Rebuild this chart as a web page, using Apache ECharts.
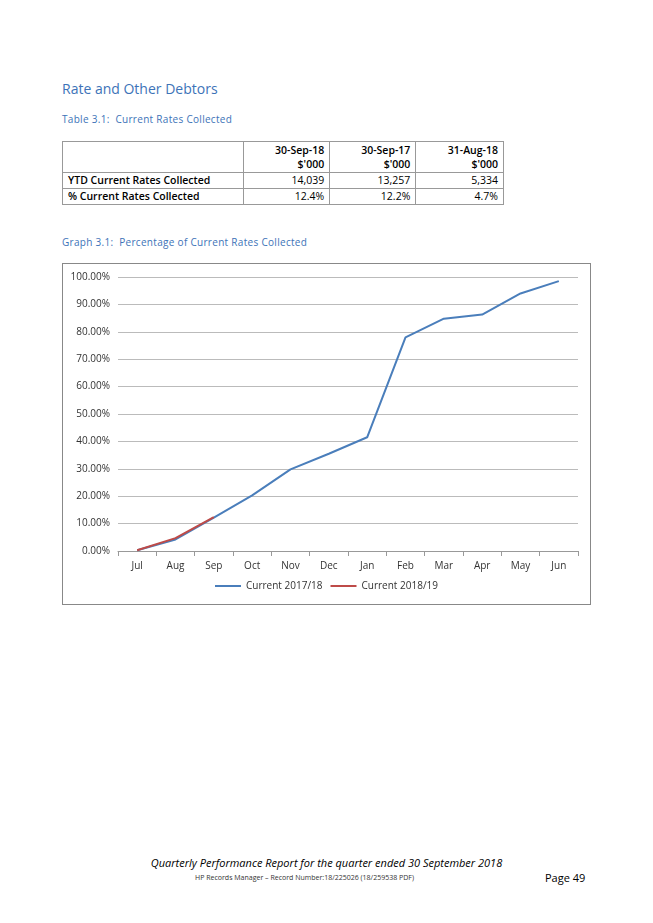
<!DOCTYPE html>
<html>
<head>
<meta charset="utf-8">
<script src="https://cdn.jsdelivr.net/npm/echarts@6/dist/echarts.min.js"></script>
<style>
  body { margin: 0; width: 653px; height: 923px; background: #fff; position: relative; font-family: 'Open Sans', 'Liberation Sans', sans-serif; }
  .abs { position: absolute; }
  .blue { color: #3d73b8; }
  table { border-collapse: collapse; font-size: 10.5px; color: #000; }
  td { border: 1px solid #999; padding: 0 5px; height: 15px; line-height: 15px; }
  td.n { text-align: right; }
  #chart { left: 62px; top: 263px; width: 527px; height: 340px; border: 1px solid #888; }
</style>
</head>
<body>
<div class="abs blue" style="left:62px;top:79px;font-size:14px;">Rate and Other Debtors</div>
<div class="abs blue" style="left:62px;top:112px;font-size:10px;letter-spacing:0.3px;">Table 3.1:&nbsp; Current Rates Collected</div>
<div class="abs" style="left:62px;top:141px;">
<table id="tbl" style="width:442px;"></table>
</div>
<div class="abs blue" style="left:62px;top:235px;font-size:10px;letter-spacing:0.3px;">Graph 3.1:&nbsp; Percentage of Current Rates Collected</div>
<div id="chart" class="abs"></div>
<div class="abs" style="left:0;width:653px;top:855px;text-align:center;font-size:11px;font-style:italic;">Quarterly Performance Report for the quarter ended 30 September 2018</div>
<div class="abs" style="left:195px;top:873px;font-size:7px;color:#333;">HP Records Manager – Record Number:18/225026 (18/259538 PDF)</div>
<div class="abs" style="left:545px;top:870px;font-size:11px;">Page 49</div>
<script>
// table
let colHeads = ['30-Sep-18', '30-Sep-17', '31-Aug-18'];
let rowNames = ['YTD Current Rates Collected', '% Current Rates Collected'];
let rowValues = [['14,039', '13,257', '5,334'], ['12.4%', '12.2%', '4.7%']];

// chart
let months = ['Jul', 'Aug', 'Sep', 'Oct', 'Nov', 'Dec', 'Jan', 'Feb', 'Mar', 'Apr', 'May', 'Jun'];
let current1718 = [0.3, 4.2, 12.2, 20.3, 29.8, 35.5, 41.5, 78.0, 84.8, 86.3, 94.0, 98.5];
let current1819 = [0.3, 4.7, 12.4];
let yTicks = [0, 10, 20, 30, 40, 50, 60, 70, 80, 90, 100];

let html = '<tr><td style="width:170px"></td>';
colHeads.forEach(function (h) {
    html += '<td class="n" style="font-weight:600;line-height:14px;padding-top:1px;padding-bottom:1px">' + h + '<br>$\'000</td>';
});
html += '</tr>';
for (let i = 0; i < rowNames.length; i++) {
    html += '<tr><td style="font-weight:600">' + rowNames[i] + '</td>';
    rowValues[i].forEach(function (v) { html += '<td class="n">' + v + '</td>'; });
    html += '</tr>';
}
document.getElementById('tbl').innerHTML = html;

let chart = echarts.init(document.getElementById('chart'));
chart.setOption({
    animation: false,
    textStyle: { fontFamily: 'Open Sans, Liberation Sans, sans-serif' },
    grid: { left: 55, right: 12, top: 13, bottom: 53 },
    legend: {
        bottom: 8,
        itemWidth: 26, itemHeight: 2,
        icon: 'rect',
        textStyle: { fontSize: 10, color: '#333' },
        data: ['Current 2017/18', 'Current 2018/19']
    },
    xAxis: {
        type: 'category',
        boundaryGap: true,
        data: months,
        axisLine: { lineStyle: { color: '#999' } },
        axisTick: { show: true, lineStyle: { color: '#999' } },
        axisLabel: { fontSize: 10, color: '#333', margin: 10 }
    },
    yAxis: {
        type: 'value',
        min: yTicks[0],
        max: yTicks[yTicks.length - 1],
        interval: 10,
        axisLine: { show: false },
        axisLabel: { fontSize: 10, color: '#333', formatter: function (v) { return v.toFixed(2) + '%'; } },
        splitLine: { lineStyle: { color: '#bbb' } }
    },
    series: [
        {
            name: 'Current 2017/18', type: 'line', data: current1718,
            symbol: 'none', lineStyle: { color: '#4a7ebb', width: 2 }, itemStyle: { color: '#4a7ebb' }
        },
        {
            name: 'Current 2018/19', type: 'line', data: current1819,
            symbol: 'none', lineStyle: { color: '#be4b48', width: 2 }, itemStyle: { color: '#be4b48' }
        }
    ]
});
</script>
</body>
</html>
